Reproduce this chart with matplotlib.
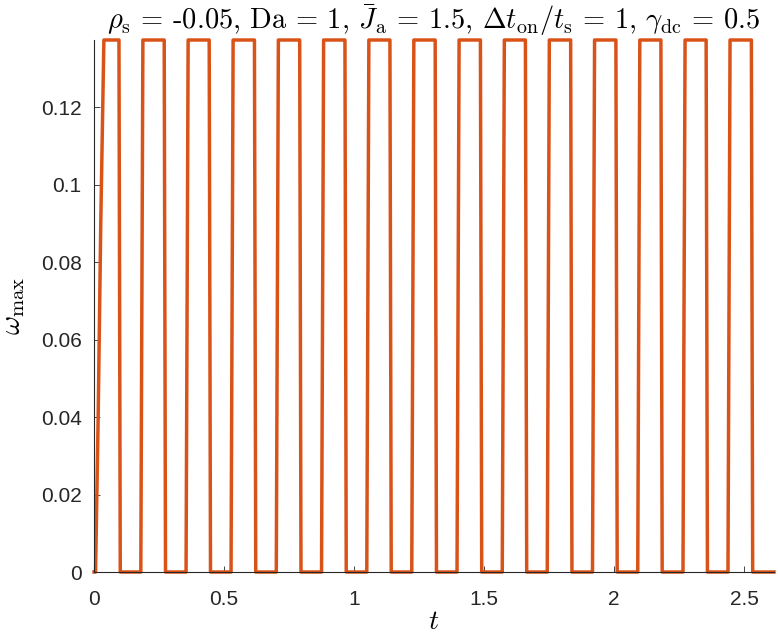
import numpy as np
import matplotlib
matplotlib.use("Agg")
import matplotlib.pyplot as plt

plt.rcParams['mathtext.fontset'] = 'cm'
plt.rcParams['font.family'] = ['Liberation Sans', 'DejaVu Sans']

# pulse edge times (first pulse starts with a ramp from t=0)
ramp_t = [0.0, 0.006, 0.016, 0.026, 0.038]
ramp_w = [0.0, 0.0, 0.040, 0.090, 0.1373]
rise_lo = [0.180, 0.354, 0.527, 0.701, 0.875, 1.049, 1.222, 1.396,
           1.570, 1.743, 1.917, 2.091, 2.265, 2.438]
rise_hi = [0.188, 0.362, 0.535, 0.709, 0.883, 1.057, 1.230, 1.404,
           1.578, 1.751, 1.925, 2.099, 2.273, 2.446]
fall_hi = [0.096, 0.270, 0.443, 0.617, 0.791, 0.965, 1.138, 1.312,
           1.486, 1.659, 1.833, 2.007, 2.180, 2.354, 2.528]
fall_lo = [0.101, 0.275, 0.448, 0.622, 0.796, 0.970, 1.143, 1.317,
           1.491, 1.664, 1.838, 2.012, 2.185, 2.359, 2.533]
w_top = 0.1373
t_end = 2.615

xticks = [0, 0.5, 1, 1.5, 2, 2.5]
xtick_labels = ['0', '0.5', '1', '1.5', '2', '2.5']
yticks = [0, 0.02, 0.04, 0.06, 0.08, 0.1, 0.12]
ytick_labels = ['0', '0.02', '0.04', '0.06', '0.08', '0.1', '0.12']

# build the polyline
t = list(ramp_t)
w = list(ramp_w)
t += [fall_hi[0], fall_lo[0]]
w += [w_top, 0.0]
for i in range(len(rise_lo)):
    t += [rise_lo[i], rise_hi[i], fall_hi[i + 1], fall_lo[i + 1]]
    w += [0.0, w_top, w_top, 0.0]
t.append(t_end)
w.append(0.0)

fig = plt.figure(figsize=(7.78, 6.40), dpi=100)
ax = fig.add_axes([94 / 778, (640 - 572) / 640, 680 / 778, 532 / 640])

ax.plot(t, w, color='#D95319', lw=2.5, clip_on=False, solid_joinstyle='round')

ax.set_xlim(0, t_end)
ax.set_ylim(0, w_top)
ax.set_xticks(xticks)
ax.set_xticklabels(xtick_labels)
ax.set_yticks(yticks)
ax.set_yticklabels(ytick_labels)

for s in ['top', 'right']:
    ax.spines[s].set_visible(False)
for s in ['left', 'bottom']:
    ax.spines[s].set_color('#262626')
    ax.spines[s].set_linewidth(0.8)
ax.tick_params(direction='in', length=4, width=0.6, color='#262626',
               labelcolor='#262626', labelsize=15, pad=9)
ax.tick_params(axis='x', pad=13)

ax.set_xlabel(r'$t$', fontsize=20, labelpad=0)
ax.set_ylabel(r'$\omega_\mathrm{max}$', fontsize=21, labelpad=10)
ax.set_title(r'$\rho_\mathrm{s}$ = -0.05, Da = 1, $\bar{J}_\mathrm{a}$ = 1.5, '
             r'$\Delta t_\mathrm{on}/t_\mathrm{s}$ = 1, $\gamma_\mathrm{dc}$ = 0.5',
             fontsize=20.5, family=['cmr10', 'DejaVu Serif'], pad=8)

fig.savefig('out.png', dpi=100)
